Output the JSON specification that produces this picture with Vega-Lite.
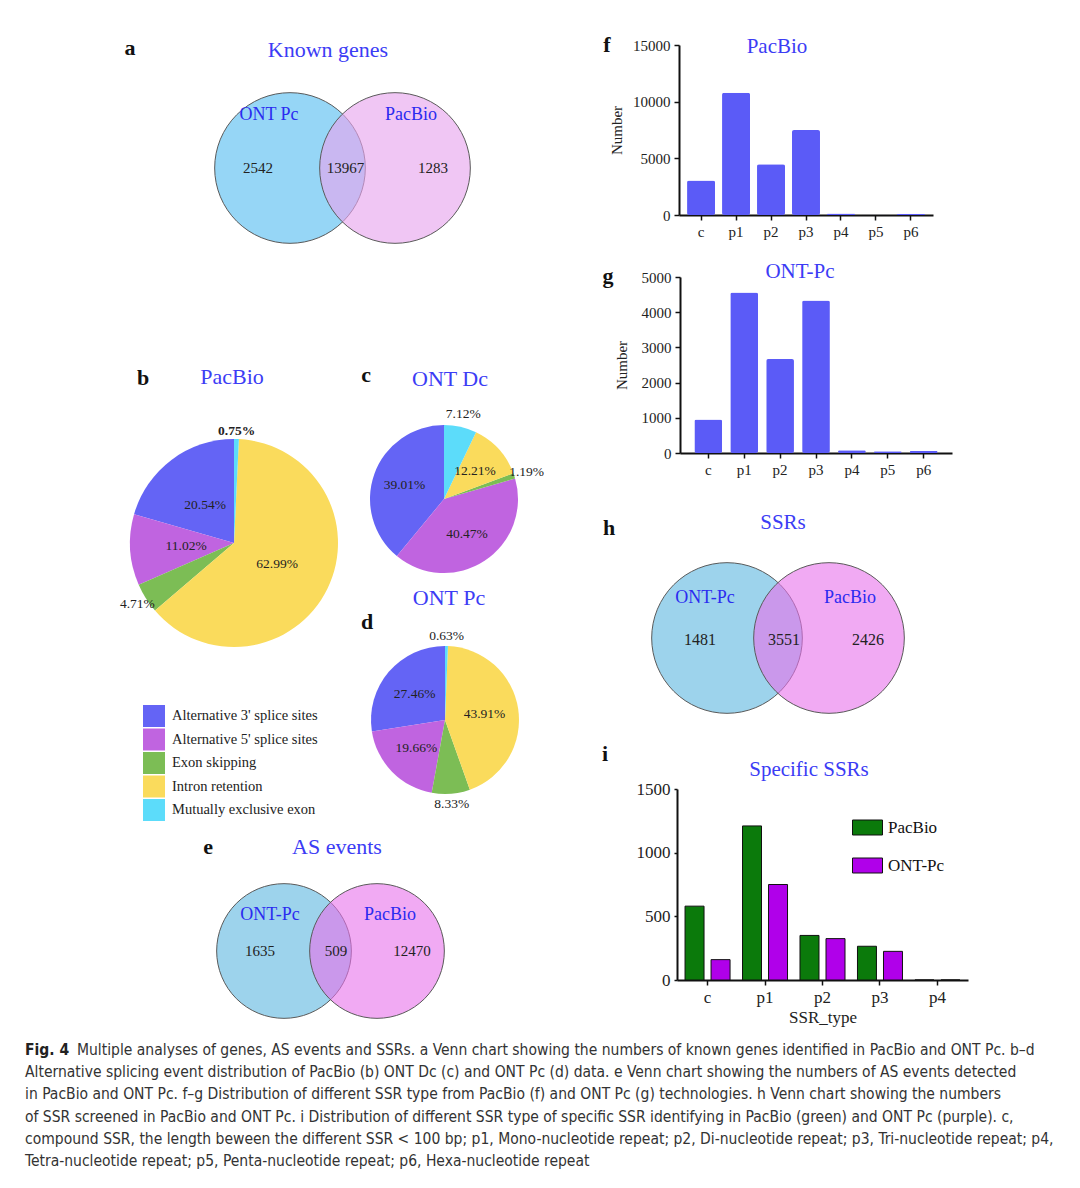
{
  "$schema": "https://vega.github.io/schema/vega-lite/v6.json",
  "background": "white",
  "padding": 0,
  "spacing": 0,
  "datasets": {
    "as_events": [
      {"sample": "PacBio", "event": "Alternative 3' splice sites", "pct": 0.2054},
      {"sample": "PacBio", "event": "Alternative 5' splice sites", "pct": 0.1102},
      {"sample": "PacBio", "event": "Exon skipping", "pct": 0.0471},
      {"sample": "PacBio", "event": "Intron retention", "pct": 0.6299},
      {"sample": "PacBio", "event": "Mutually exclusive exon", "pct": 0.0075},
      {"sample": "ONT Dc", "event": "Alternative 3' splice sites", "pct": 0.3901},
      {"sample": "ONT Dc", "event": "Alternative 5' splice sites", "pct": 0.4047},
      {"sample": "ONT Dc", "event": "Exon skipping", "pct": 0.0119},
      {"sample": "ONT Dc", "event": "Intron retention", "pct": 0.1221},
      {"sample": "ONT Dc", "event": "Mutually exclusive exon", "pct": 0.0712},
      {"sample": "ONT Pc", "event": "Alternative 3' splice sites", "pct": 0.2746},
      {"sample": "ONT Pc", "event": "Alternative 5' splice sites", "pct": 0.1966},
      {"sample": "ONT Pc", "event": "Exon skipping", "pct": 0.0833},
      {"sample": "ONT Pc", "event": "Intron retention", "pct": 0.4391},
      {"sample": "ONT Pc", "event": "Mutually exclusive exon", "pct": 0.0063}
    ]
  },
  "vconcat": [
    {
      "hconcat": [
        {
          "vconcat": [
            {
              "width": 590, "height": 336,
              "resolve": {"scale": {"x": "independent"}},
              "layer": [
                {"data": {"values": [{"set": "ONT Pc"}]},
                 "mark": {"type": "point", "shape": "circle", "filled": true, "size": 22700, "fill": "#96d6f6", "stroke": "#5a5a5a", "strokeWidth": 1, "opacity": 1},
                 "encoding": {"x": {"field": "set", "type": "nominal", "scale": {"type": "point", "domain": ["ONT Pc", "PacBio"], "range": [290, 395], "padding": 0}, "axis": null}}},
                {"data": {"values": [{"set": "PacBio"}]},
                 "mark": {"type": "point", "shape": "circle", "filled": true, "size": 22700, "fill": "#e7a5ee", "fillOpacity": 0.63, "stroke": "#5a5a5a", "strokeWidth": 1, "opacity": 1},
                 "encoding": {"x": {"field": "set", "type": "nominal", "scale": {"type": "point", "domain": ["ONT Pc", "PacBio"], "range": [290, 395], "padding": 0}, "axis": null}}},
                {"data": {"values": [{"region": "ONT Pc only", "count": 2542}, {"region": "ONT Pc and PacBio", "count": 13967}, {"region": "PacBio only", "count": 1283}]},
                 "mark": {"type": "text", "fontSize": 15, "color": "#222"},
                 "encoding": {"x": {"field": "region", "type": "nominal", "sort": null, "scale": {"type": "point", "range": [258, 433], "padding": 0}, "axis": null}, "text": {"field": "count"}}},
                {"data": {"values": [{"set": "ONT Pc"}, {"set": "PacBio"}]},
                 "mark": {"type": "text", "fontSize": 18, "color": "#2b2bf0", "yOffset": -53},
                 "encoding": {"x": {"field": "set", "type": "nominal", "sort": null, "scale": {"type": "point", "range": [269, 411], "padding": 0}, "axis": null}, "text": {"field": "set"}}},
                {"data": {"values": [{"letter": "a", "title": "Known genes"}]},
                 "layer": [
                   {"mark": {"type": "text", "fontSize": 22, "fontWeight": "bold", "color": "#111", "x": 130, "y": 48}, "encoding": {"text": {"field": "letter"}}},
                   {"mark": {"type": "text", "fontSize": 22, "color": "#3c3cf5", "x": 328, "y": 50}, "encoding": {"text": {"field": "title"}}}
                 ]}
              ]
            },
            {
              "hconcat": [
                {
                  "width": 350, "height": 494,
                  "layer": [
                    {
                      "data": {"name": "as_events"},
                      "transform": [{"filter": "datum.sample == 'PacBio'"}],
                      "encoding": {
                        "theta": {"field": "pct", "type": "quantitative", "stack": true},
                        "order": {"field": "event", "type": "nominal", "sort": "descending"}
                      },
                      "layer": [
                        {"mark": {"type": "arc", "outerRadius": 104, "xOffset": 59, "yOffset": -40},
                         "encoding": {"color": {"field": "event", "type": "nominal",
                           "scale": {"domain": ["Alternative 3' splice sites", "Alternative 5' splice sites", "Exon skipping", "Intron retention", "Mutually exclusive exon"], "range": ["#6464f5", "#c064e0", "#7cbd55", "#fadb5c", "#5cdcfa"]},
                           "legend": {"orient": "none", "legendX": 143, "legendY": 705, "title": null, "symbolType": "square", "symbolSize": 484, "symbolStrokeWidth": 0, "symbolOpacity": 1, "labelFont": "Liberation Serif", "labelFontSize": 14.5, "labelColor": "#222", "labelOffset": 7, "rowPadding": 1.5, "padding": 0, "labelLimit": 300}}}},
                        {"mark": {"type": "text", "radius": 48, "xOffset": 59, "yOffset": -40, "fontSize": 13.5, "color": "#222"},
                         "encoding": {"text": {"condition": {"test": "datum.pct < 0.1", "value": ""}, "field": "pct", "type": "quantitative", "format": ".2%"}}},
                        {"mark": {"type": "text", "radius": 114, "xOffset": 59, "yOffset": -40, "fontSize": 13.5, "color": "#222"},
                         "encoding": {"text": {"condition": {"test": "datum.pct >= 0.1 || datum.pct < 0.01", "value": ""}, "field": "pct", "type": "quantitative", "format": ".2%"}}},
                        {"mark": {"type": "text", "radius": 112, "xOffset": 59, "yOffset": -40, "fontSize": 13.5, "fontWeight": "bold", "color": "#222"},
                         "encoding": {"text": {"condition": {"test": "datum.pct >= 0.01", "value": ""}, "field": "pct", "type": "quantitative", "format": ".2%"}}}
                      ]
                    },
                    {"data": {"values": [{"letter": "b", "title": "PacBio"}]},
                     "layer": [
                       {"mark": {"type": "text", "fontSize": 22, "fontWeight": "bold", "color": "#111", "x": 143, "y": 42}, "encoding": {"text": {"field": "letter"}}},
                       {"mark": {"type": "text", "fontSize": 22, "color": "#3c3cf5", "x": 232, "y": 41}, "encoding": {"text": {"field": "title"}}}
                     ]}
                  ]
                },
                {
                  "vconcat": [
                    {
                      "width": 240, "height": 249,
                      "layer": [
                        {
                          "data": {"name": "as_events"},
                          "transform": [{"filter": "datum.sample == 'ONT Dc'"}],
                          "encoding": {
                            "theta": {"field": "pct", "type": "quantitative", "stack": true},
                            "order": {"field": "event", "type": "nominal", "sort": "descending"}
                          },
                          "layer": [
                            {"mark": {"type": "arc", "outerRadius": 74, "xOffset": -26, "yOffset": 38.5},
                             "encoding": {"color": {"field": "event", "type": "nominal",
                               "scale": {"domain": ["Alternative 3' splice sites", "Alternative 5' splice sites", "Exon skipping", "Intron retention", "Mutually exclusive exon"], "range": ["#6464f5", "#c064e0", "#7cbd55", "#fadb5c", "#5cdcfa"]},
                               "legend": null}}},
                            {"mark": {"type": "text", "radius": 42, "xOffset": -26, "yOffset": 38.5, "fontSize": 13.5, "color": "#222"},
                             "encoding": {"text": {"condition": {"test": "datum.pct < 0.1", "value": ""}, "field": "pct", "type": "quantitative", "format": ".2%"}}},
                            {"mark": {"type": "text", "radius": 87, "xOffset": -26, "yOffset": 38.5, "fontSize": 13.5, "color": "#222"},
                             "encoding": {"text": {"condition": {"test": "datum.pct >= 0.1", "value": ""}, "field": "pct", "type": "quantitative", "format": ".2%"}}}
                          ]
                        },
                        {"data": {"values": [{"letter": "c", "title": "ONT Dc"}]},
                         "layer": [
                           {"mark": {"type": "text", "fontSize": 22, "fontWeight": "bold", "color": "#111", "x": 16, "y": 39}, "encoding": {"text": {"field": "letter"}}},
                           {"mark": {"type": "text", "fontSize": 22, "color": "#3c3cf5", "x": 100, "y": 43}, "encoding": {"text": {"field": "title"}}}
                         ]}
                      ]
                    },
                    {
                      "width": 240, "height": 245,
                      "layer": [
                        {
                          "data": {"name": "as_events"},
                          "transform": [{"filter": "datum.sample == 'ONT Pc'"}],
                          "encoding": {
                            "theta": {"field": "pct", "type": "quantitative", "stack": true},
                            "order": {"field": "event", "type": "nominal", "sort": "descending"}
                          },
                          "layer": [
                            {"mark": {"type": "arc", "outerRadius": 74, "xOffset": -25, "yOffset": 12.5},
                             "encoding": {"color": {"field": "event", "type": "nominal",
                               "scale": {"domain": ["Alternative 3' splice sites", "Alternative 5' splice sites", "Exon skipping", "Intron retention", "Mutually exclusive exon"], "range": ["#6464f5", "#c064e0", "#7cbd55", "#fadb5c", "#5cdcfa"]},
                               "legend": null}}},
                            {"mark": {"type": "text", "radius": 40, "xOffset": -25, "yOffset": 12.5, "fontSize": 13.5, "color": "#222"},
                             "encoding": {"text": {"condition": {"test": "datum.pct < 0.1", "value": ""}, "field": "pct", "type": "quantitative", "format": ".2%"}}},
                            {"mark": {"type": "text", "radius": 84, "xOffset": -25, "yOffset": 12.5, "fontSize": 13.5, "color": "#222"},
                             "encoding": {"text": {"condition": {"test": "datum.pct >= 0.1", "value": ""}, "field": "pct", "type": "quantitative", "format": ".2%"}}}
                          ]
                        },
                        {"data": {"values": [{"letter": "d", "title": "ONT Pc"}]},
                         "layer": [
                           {"mark": {"type": "text", "fontSize": 22, "fontWeight": "bold", "color": "#111", "x": 17, "y": 37}, "encoding": {"text": {"field": "letter"}}},
                           {"mark": {"type": "text", "fontSize": 22, "color": "#3c3cf5", "x": 99, "y": 13}, "encoding": {"text": {"field": "title"}}}
                         ]}
                      ]
                    }
                  ],
                  "spacing": 0
                }
              ],
              "spacing": 0
            },
            {
              "width": 590, "height": 210,
              "resolve": {"scale": {"x": "independent"}},
              "layer": [
                {"data": {"values": [{"set": "ONT-Pc"}]},
                 "mark": {"type": "point", "shape": "circle", "filled": true, "size": 18146, "fill": "#9dd3ec", "stroke": "#5a5a5a", "strokeWidth": 1, "opacity": 1, "yOffset": 16},
                 "encoding": {"x": {"field": "set", "type": "nominal", "scale": {"type": "point", "domain": ["ONT-Pc", "PacBio"], "range": [284, 377], "padding": 0}, "axis": null}}},
                {"data": {"values": [{"set": "PacBio"}]},
                 "mark": {"type": "point", "shape": "circle", "filled": true, "size": 18146, "fill": "#e871eb", "fillOpacity": 0.6, "stroke": "#5a5a5a", "strokeWidth": 1, "opacity": 1, "yOffset": 16},
                 "encoding": {"x": {"field": "set", "type": "nominal", "scale": {"type": "point", "domain": ["ONT-Pc", "PacBio"], "range": [284, 377], "padding": 0}, "axis": null}}},
                {"data": {"values": [{"region": "ONT-Pc only", "count": 1635}, {"region": "ONT-Pc and PacBio", "count": 509}, {"region": "PacBio only", "count": 12470}]},
                 "mark": {"type": "text", "fontSize": 15, "color": "#222", "yOffset": 16},
                 "encoding": {"x": {"field": "region", "type": "nominal", "sort": null, "scale": {"type": "point", "range": [260, 412], "padding": 0}, "axis": null}, "text": {"field": "count"}}},
                {"data": {"values": [{"set": "ONT-Pc"}, {"set": "PacBio"}]},
                 "mark": {"type": "text", "fontSize": 18, "color": "#2b2bf0", "yOffset": -20},
                 "encoding": {"x": {"field": "set", "type": "nominal", "sort": null, "scale": {"type": "point", "range": [270, 390], "padding": 0}, "axis": null}, "text": {"field": "set"}}},
                {"data": {"values": [{"letter": "e", "title": "AS events"}]},
                 "layer": [
                   {"mark": {"type": "text", "fontSize": 22, "fontWeight": "bold", "color": "#111", "x": 208, "y": 17}, "encoding": {"text": {"field": "letter"}}},
                   {"mark": {"type": "text", "fontSize": 22, "color": "#3c3cf5", "x": 337, "y": 17}, "encoding": {"text": {"field": "title"}}}
                 ]}
              ]
            }
          ],
          "spacing": 0
        },
        {
          "vconcat": [
            {
              "width": 490, "height": 240,
              "layer": [
                {"data": {"values": [{"type": "c", "n": 3050}, {"type": "p1", "n": 10790}, {"type": "p2", "n": 4470}, {"type": "p3", "n": 7500}, {"type": "p4", "n": 130}, {"type": "p5", "n": 30}, {"type": "p6", "n": 120}]},
                 "mark": {"type": "bar", "color": "#5b5bf7", "cornerRadius": 2},
                 "encoding": {
                   "x": {"field": "type", "type": "nominal", "scale": {"range": [89, 343], "paddingInner": 0.2, "paddingOuter": 0.23}, "axis": {"title": null, "labelAngle": 0, "labelFontSize": 15, "offset": -25}},
                   "y": {"field": "n", "type": "quantitative", "scale": {"domain": [0, 15000], "range": [215, 45], "nice": false}, "axis": {"title": "Number", "values": [0, 5000, 10000, 15000], "format": "d", "titlePadding": 8, "labelFontSize": 15, "offset": -89}}
                 }},
                {"data": {"values": [{"letter": "f", "title": "PacBio"}]},
                 "layer": [
                   {"mark": {"type": "text", "fontSize": 22, "fontWeight": "bold", "color": "#111", "x": 17, "y": 45}, "encoding": {"text": {"field": "letter"}}},
                   {"mark": {"type": "text", "fontSize": 21, "color": "#3c3cf5", "x": 187, "y": 47}, "encoding": {"text": {"field": "title"}}}
                 ]}
              ]
            },
            {
              "width": 490, "height": 240,
              "layer": [
                {"data": {"values": [{"type": "c", "n": 950}, {"type": "p1", "n": 4560}, {"type": "p2", "n": 2670}, {"type": "p3", "n": 4330}, {"type": "p4", "n": 80}, {"type": "p5", "n": 50}, {"type": "p6", "n": 60}]},
                 "mark": {"type": "bar", "color": "#5b5bf7", "cornerRadius": 2},
                 "encoding": {
                   "x": {"field": "type", "type": "nominal", "scale": {"range": [90, 362], "paddingInner": 0.227, "paddingOuter": 0.4}, "axis": {"title": null, "labelAngle": 0, "labelFontSize": 15, "offset": -27}},
                   "y": {"field": "n", "type": "quantitative", "scale": {"domain": [0, 5000], "range": [213, 37], "nice": false}, "axis": {"title": "Number", "values": [0, 1000, 2000, 3000, 4000, 5000], "format": "d", "titlePadding": 12, "labelFontSize": 15, "offset": -90}}
                 }},
                {"data": {"values": [{"letter": "g", "title": "ONT-Pc"}]},
                 "layer": [
                   {"mark": {"type": "text", "fontSize": 22, "fontWeight": "bold", "color": "#111", "x": 18, "y": 36}, "encoding": {"text": {"field": "letter"}}},
                   {"mark": {"type": "text", "fontSize": 21, "color": "#3c3cf5", "x": 210, "y": 32}, "encoding": {"text": {"field": "title"}}}
                 ]}
              ]
            },
            {
              "width": 490, "height": 260,
              "resolve": {"scale": {"x": "independent"}},
              "layer": [
                {"data": {"values": [{"set": "ONT-Pc"}]},
                 "mark": {"type": "point", "shape": "circle", "filled": true, "size": 22698, "fill": "#9dd3ec", "stroke": "#5a5a5a", "strokeWidth": 1, "opacity": 1, "yOffset": 28},
                 "encoding": {"x": {"field": "set", "type": "nominal", "scale": {"type": "point", "domain": ["ONT-Pc", "PacBio"], "range": [137, 239], "padding": 0}, "axis": null}}},
                {"data": {"values": [{"set": "PacBio"}]},
                 "mark": {"type": "point", "shape": "circle", "filled": true, "size": 22698, "fill": "#e871eb", "fillOpacity": 0.6, "stroke": "#5a5a5a", "strokeWidth": 1, "opacity": 1, "yOffset": 28},
                 "encoding": {"x": {"field": "set", "type": "nominal", "scale": {"type": "point", "domain": ["ONT-Pc", "PacBio"], "range": [137, 239], "padding": 0}, "axis": null}}},
                {"data": {"values": [{"region": "ONT-Pc only", "count": 1481}, {"region": "ONT-Pc and PacBio", "count": 3551}, {"region": "PacBio only", "count": 2426}]},
                 "mark": {"type": "text", "fontSize": 16, "color": "#222", "yOffset": 30},
                 "encoding": {"x": {"field": "region", "type": "nominal", "sort": null, "scale": {"type": "point", "range": [110, 278], "padding": 0}, "axis": null}, "text": {"field": "count"}}},
                {"data": {"values": [{"set": "ONT-Pc"}, {"set": "PacBio"}]},
                 "mark": {"type": "text", "fontSize": 18, "color": "#2b2bf0", "yOffset": -12},
                 "encoding": {"x": {"field": "set", "type": "nominal", "sort": null, "scale": {"type": "point", "range": [115, 260], "padding": 0}, "axis": null}, "text": {"field": "set"}}},
                {"data": {"values": [{"letter": "h", "title": "SSRs"}]},
                 "layer": [
                   {"mark": {"type": "text", "fontSize": 22, "fontWeight": "bold", "color": "#111", "x": 19, "y": 48}, "encoding": {"text": {"field": "letter"}}},
                   {"mark": {"type": "text", "fontSize": 21, "color": "#3c3cf5", "x": 193, "y": 43}, "encoding": {"text": {"field": "title"}}}
                 ]}
              ]
            },
            {
              "width": 490, "height": 300,
              "layer": [
                {"data": {"values": [
                  {"type": "c", "platform": "PacBio", "n": 580}, {"type": "c", "platform": "ONT-Pc", "n": 160},
                  {"type": "p1", "platform": "PacBio", "n": 1210}, {"type": "p1", "platform": "ONT-Pc", "n": 750},
                  {"type": "p2", "platform": "PacBio", "n": 350}, {"type": "p2", "platform": "ONT-Pc", "n": 325},
                  {"type": "p3", "platform": "PacBio", "n": 265}, {"type": "p3", "platform": "ONT-Pc", "n": 225},
                  {"type": "p4", "platform": "PacBio", "n": 0}, {"type": "p4", "platform": "ONT-Pc", "n": 0}
                 ]},
                 "mark": {"type": "bar", "stroke": "#111", "strokeWidth": 1},
                 "encoding": {
                   "x": {"field": "type", "type": "nominal", "scale": {"range": [87, 378], "paddingInner": 0.217, "paddingOuter": 0.14}, "axis": {"title": "SSR_type", "labelAngle": 0, "labelFontSize": 17, "titleFontSize": 17, "titlePadding": 4, "offset": -60}},
                   "xOffset": {"field": "platform", "type": "nominal", "scale": {"domain": ["PacBio", "ONT-Pc"], "paddingInner": 0.27, "paddingOuter": 0}},
                   "y": {"field": "n", "type": "quantitative", "scale": {"domain": [0, 1500], "range": [240, 49], "nice": false}, "axis": {"title": null, "values": [0, 500, 1000, 1500], "format": "d", "labelFontSize": 17, "tickSize": 3, "offset": -87}},
                   "fill": {"field": "platform", "type": "nominal", "scale": {"domain": ["PacBio", "ONT-Pc"], "range": ["#0b7a0b", "#b000ea"]},
                     "legend": {"orient": "none", "legendX": 852, "legendY": 812, "title": null, "symbolType": "M-1,-0.5H1V0.5H-1Z", "symbolSize": 900, "symbolStrokeColor": "#111", "symbolStrokeWidth": 1, "symbolOpacity": 1, "labelFont": "Liberation Serif", "labelFontSize": 17, "labelColor": "#111", "labelOffset": 5, "rowPadding": 13, "padding": 0}}
                 }},
                {"data": {"values": [{"letter": "i", "title": "Specific SSRs"}]},
                 "layer": [
                   {"mark": {"type": "text", "fontSize": 22, "fontWeight": "bold", "color": "#111", "x": 15, "y": 14}, "encoding": {"text": {"field": "letter"}}},
                   {"mark": {"type": "text", "fontSize": 21, "color": "#3c3cf5", "x": 219, "y": 30}, "encoding": {"text": {"field": "title"}}}
                 ]}
              ]
            }
          ],
          "spacing": 0
        }
      ],
      "spacing": 0
    },
    {
      "width": 1080, "height": 148,
      "layer": [
        {"data": {"values": [
          {"line": 2, "text": "Alternative splicing event distribution of PacBio (b) ONT Dc (c) and ONT Pc (d) data. e Venn chart showing the numbers of AS events detected"},
          {"line": 3, "text": "in PacBio and ONT Pc. f–g Distribution of different SSR type from PacBio (f) and ONT Pc (g) technologies. h Venn chart showing the numbers"},
          {"line": 4, "text": "of SSR screened in PacBio and ONT Pc. i Distribution of different SSR type of specific SSR identifying in PacBio (green) and ONT Pc (purple). c,"},
          {"line": 5, "text": "compound SSR, the length beween the different SSR < 100 bp; p1, Mono-nucleotide repeat; p2, Di-nucleotide repeat; p3, Tri-nucleotide repeat; p4,"},
          {"line": 6, "text": "Tetra-nucleotide repeat; p5, Penta-nucleotide repeat; p6, Hexa-nucleotide repeat"}
         ]},
         "mark": {"type": "text", "align": "left", "font": "DejaVu Sans Condensed", "fontSize": 15.5, "color": "#333", "x": 25},
         "encoding": {"y": {"field": "line", "type": "ordinal", "scale": {"type": "point", "domain": [1, 2, 3, 4, 5, 6], "range": [10, 121], "padding": 0}, "axis": null}, "text": {"field": "text"}}},
        {"data": {"values": [{"line": 1, "text": "Multiple analyses of genes, AS events and SSRs. a Venn chart showing the numbers of known genes identified in PacBio and ONT Pc. b–d"}]},
         "mark": {"type": "text", "align": "left", "font": "DejaVu Sans Condensed", "fontSize": 15.5, "color": "#333", "x": 77},
         "encoding": {"y": {"field": "line", "type": "ordinal", "scale": {"type": "point", "domain": [1, 2, 3, 4, 5, 6], "range": [10, 121], "padding": 0}, "axis": null}, "text": {"field": "text"}}},
        {"data": {"values": [{"line": 1, "text": "Fig. 4"}]},
         "mark": {"type": "text", "align": "left", "font": "DejaVu Sans Condensed", "fontSize": 15.5, "fontWeight": "bold", "color": "#222", "x": 25},
         "encoding": {"y": {"field": "line", "type": "ordinal", "scale": {"type": "point", "domain": [1, 2, 3, 4, 5, 6], "range": [10, 121], "padding": 0}, "axis": null}, "text": {"field": "text"}}}
      ]
    }
  ],
  "config": {
    "view": {"stroke": null},
    "font": "Liberation Serif",
    "axis": {"grid": false, "domainColor": "#111", "domainWidth": 2, "tickColor": "#111", "tickWidth": 1.5, "tickSize": 5, "labelFont": "Liberation Serif", "labelColor": "#222", "labelPadding": 4, "titleFont": "Liberation Serif", "titleFontSize": 15, "titleFontWeight": "normal", "titleColor": "#222"}
  }
}
